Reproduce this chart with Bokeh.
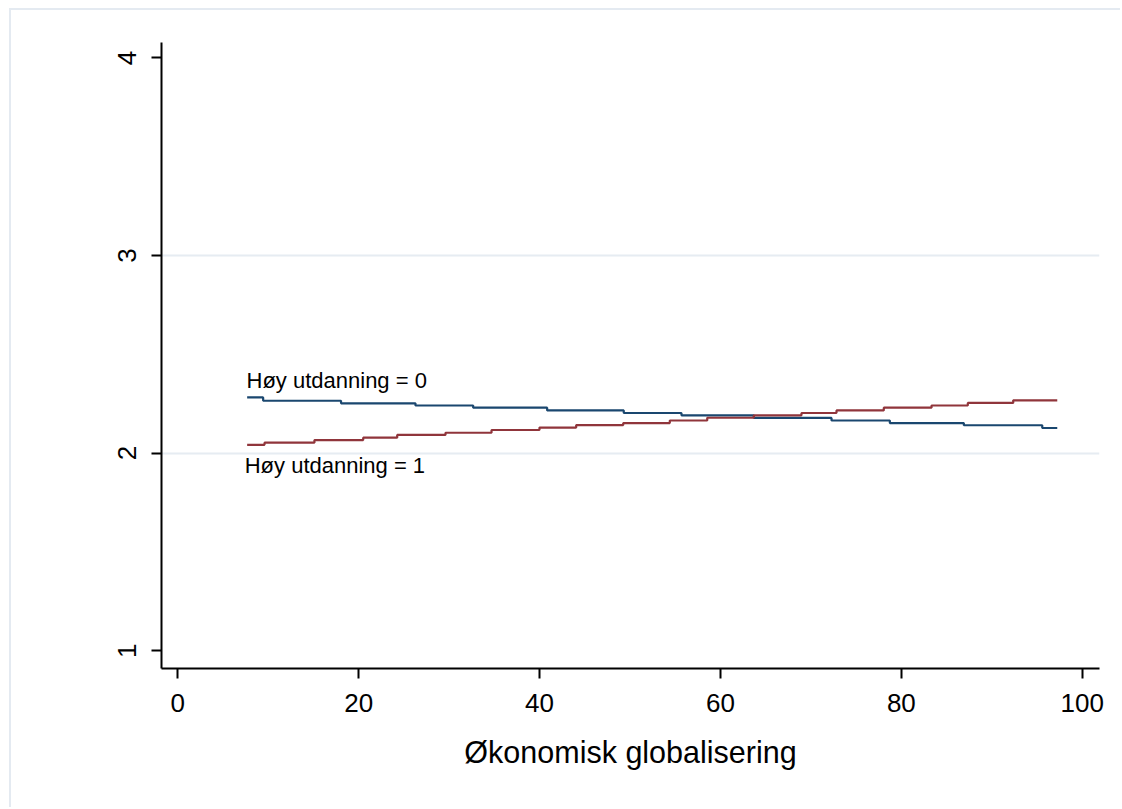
from bokeh.plotting import figure
from bokeh.models import FixedTicker, Range1d, Label
from bokeh.embed import file_html
from bokeh.resources import INLINE

# Predicted values by economic globalisation (step lines)
x_edu0 = [7.67, 9.44, 18.05, 26.28, 32.66, 40.84, 49.31, 55.69, 63.69, 72.28, 78.73, 86.91, 95.58, 97.24]
y_edu0 = [2.282, 2.265, 2.252, 2.241, 2.230, 2.216, 2.203, 2.191, 2.178, 2.165, 2.152, 2.141, 2.127, 2.127]

x_edu1 = [7.67, 9.59, 15.11, 20.50, 24.26, 29.60, 34.69, 39.99, 44.05, 49.25, 54.40, 58.54, 63.69,
          68.96, 72.83, 78.06, 83.34, 87.35, 92.37, 97.24]
y_edu1 = [2.042, 2.053, 2.066, 2.078, 2.092, 2.103, 2.117, 2.129, 2.142, 2.152, 2.165, 2.179, 2.191,
          2.203, 2.216, 2.230, 2.241, 2.254, 2.267, 2.267]

series_labels = ["Høy utdanning = 0", "Høy utdanning = 1"]
x_ticks = [0, 20, 40, 60, 80, 100]
y_ticks = [1, 2, 3, 4]
x_title = "Økonomisk globalisering"

FONT = "Liberation Sans"
BLUE = "#1a476f"
RED = "#90353b"

p = figure(width=1111, height=799, output_backend="svg", toolbar_location=None,
           x_range=Range1d(-1.80, 101.91), y_range=Range1d(0.910, 4.078),
           min_border_left=150, min_border_top=32, min_border_right=23, min_border_bottom=141,
           background_fill_color="white", border_fill_color="white",
           styles={"margin-left": "9px", "margin-top": "8px",
                   "border-left": "2px solid #e4eaf1", "border-top": "2px solid #e4eaf1"})
p.outline_line_color = None

p.step(x_edu0, y_edu0, mode="after", line_color=BLUE, line_width=2.2)
p.step(x_edu1, y_edu1, mode="after", line_color=RED, line_width=2.2)

p.add_layout(Label(x=7.6, y=2.365, text=series_labels[0], text_font=FONT, text_font_size="22px",
                   text_color="black", text_baseline="alphabetic", text_align="left"))
p.add_layout(Label(x=7.4, y=1.937, text=series_labels[1], text_font=FONT, text_font_size="22px",
                   text_color="black", text_baseline="alphabetic", text_align="left"))

# grid
p.xgrid.visible = False
p.ygrid.ticker = FixedTicker(ticks=[2, 3])
p.ygrid.grid_line_color = "#e6ecf2"
p.ygrid.grid_line_width = 2

# axes
for ax in (p.xaxis[0], p.yaxis[0]):
    ax.axis_line_color = "black"
    ax.axis_line_width = 2
    ax.major_tick_line_color = "black"
    ax.major_tick_line_width = 2
    ax.major_tick_out = 10
    ax.major_tick_in = 0
    ax.minor_tick_line_color = None
    ax.major_label_text_font = FONT
    ax.major_label_text_font_size = "26px"
    ax.major_label_text_color = "black"

p.xaxis.ticker = FixedTicker(ticks=x_ticks)
p.yaxis.ticker = FixedTicker(ticks=y_ticks)
p.xaxis.major_label_standoff = 15
p.yaxis.major_label_standoff = 15
p.yaxis.major_label_orientation = "vertical"

p.xaxis.axis_label = x_title
p.xaxis.axis_label_text_font = FONT
p.xaxis.axis_label_text_font_size = "30.5px"
p.xaxis.axis_label_text_font_style = "normal"
p.xaxis.axis_label_text_color = "black"
p.xaxis.axis_label_standoff = 20

open("out.html", "w").write(file_html(p, INLINE))
